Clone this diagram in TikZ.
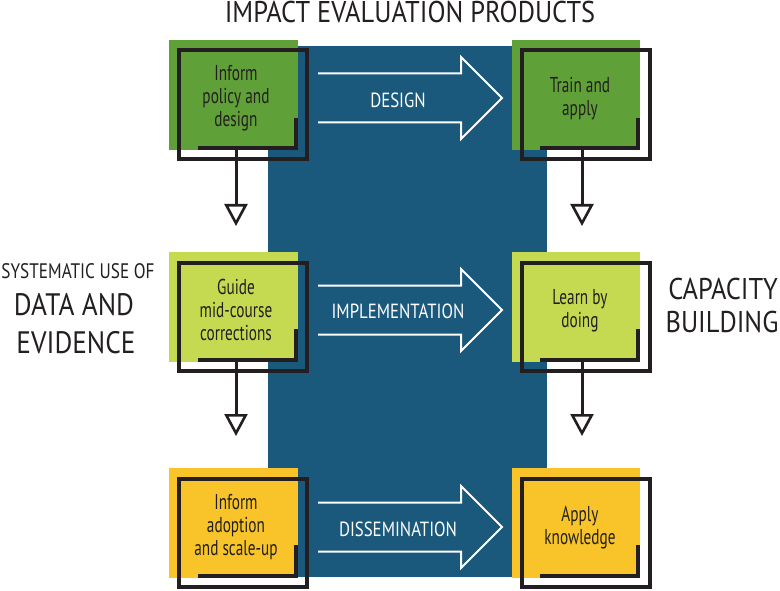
\documentclass[tikz,border=0pt]{standalone}
\usepackage{fontspec}
\setmainfont{PT Sans}[FakeStretch=0.82]
\newfontfamily\boxfam{PT Sans}[FakeStretch=0.71]
\newfontfamily\bigfam{PT Sans}[FakeStretch=0.88]
\usetikzlibrary{arrows.meta,calc}
\definecolor{band}{RGB}{26,88,124}
\definecolor{gdark}{RGB}{96,160,56}
\definecolor{glime}{RGB}{197,218,80}
\definecolor{gyel}{RGB}{248,196,42}
\definecolor{ink}{RGB}{35,31,32}
\begin{document}
\begin{tikzpicture}[x=1pt,y=-1pt,
  fillbox/.style={minimum height=110pt, inner sep=0pt, draw=none},
  leftfill/.style={fillbox, minimum width=129pt},
  rightfill/.style={fillbox, minimum width=128pt},
  boxtext/.style={align=center, text=ink, inner sep=0pt, font=\boxfam\fontsize{21.5}{23}\selectfont},
  frame/.style={draw=ink, line width=3.6pt},
  shade/.style={draw=ink, line width=3.6pt, line join=miter},
  conn/.style={draw=ink, line width=3pt, -{Triangle[open, length=22pt, width=23pt, line width=2.6pt]}},
  bigarrow/.style={draw=white, line width=2pt, line join=miter},
  arrowtext/.style={text=white, inner sep=0pt, anchor=base, font=\fontsize{20.5}{22}\selectfont},
  sidetext/.style={text=ink, inner sep=0pt, anchor=base}
]
\useasboundingbox (0,0) rectangle (780,591);
% central band
\fill[band] (268,46) rectangle (547,577);

% ---------- row 1 (c = 98) ----------
\node[leftfill, fill=gdark] (fl1) at (233.5,95) {};
\node[rightfill, fill=gdark] (fr1) at (576,95) {};
\draw[frame] (179,50) rectangle (307,159);
\draw[frame] (522,50) rectangle (650,159);
\draw[shade] (296,118) -- (296,148) -- (198,148);
\draw[shade] (638,118) -- (638,148) -- (540,148);
\node[boxtext] (tl1) at (236,98) {Inform\\policy and\\design};
\node[boxtext] (tr1) at (580,99) {Train and\\apply};
\draw[bigarrow] (318,73.5) -- (461,73.5) -- (461,57) -- (502,98) -- (461,139) -- (461,122.5) -- (318,122.5);
\node[arrowtext] (a1) at (398,107.5) {DESIGN};
\coordinate (dl1) at (236,226);
\coordinate (dr1) at (582,226);
\draw[conn] (fl1.south -| dl1) -- (dl1);
\draw[conn] (fr1.south -| dr1) -- (dr1);

% ---------- row 2 (c = 310) ----------
\node[leftfill, fill=glime] (fl2) at (233.5,307) {};
\node[rightfill, fill=glime] (fr2) at (576,307) {};
\draw[frame] (179,263) rectangle (307,371);
\draw[frame] (522,263) rectangle (650,371);
\draw[shade] (296,329) -- (296,360) -- (198,360);
\draw[shade] (638,329) -- (638,360) -- (540,360);
\node[boxtext] (tl2) at (236,310) {Guide\\mid-course\\corrections};
\node[boxtext] (tr2) at (580,311) {Learn by\\doing};
\draw[bigarrow] (318,285.5) -- (461,285.5) -- (461,269) -- (502,310) -- (461,351) -- (461,334.5) -- (318,334.5);
\node[arrowtext] (a2) at (398,318.5) {IMPLEMENTATION};
\coordinate (dl2) at (236,436);
\coordinate (dr2) at (582,436);
\draw[conn] (fl2.south -| dl2) -- (dl2);
\draw[conn] (fr2.south -| dr2) -- (dr2);

% ---------- row 3 (c = 527) ----------
\node[leftfill, fill=gyel] (fl3) at (233.5,523) {};
\node[rightfill, fill=gyel] (fr3) at (576,523) {};
\draw[frame] (179,479) rectangle (307,587);
\draw[frame] (522,479) rectangle (650,587);
\draw[shade] (296,545) -- (296,576) -- (198,576);
\draw[shade] (638,545) -- (638,576) -- (540,576);
\node[boxtext] (tl3) at (236,527) {Inform\\adoption\\and scale-up};
\node[boxtext] (tr3) at (580,528) {Apply\\knowledge};
\draw[bigarrow] (318,502.5) -- (461,502.5) -- (461,486) -- (502,527) -- (461,568) -- (461,551.5) -- (318,551.5);
\node[arrowtext] (a3) at (398,536.5) {DISSEMINATION};

% ---------- side texts ----------
\node[sidetext, font=\bigfam\fontsize{30}{30}\selectfont] (title) at (410,23) {IMPACT EVALUATION PRODUCTS};
\node[sidetext, font=\fontsize{21}{21}\selectfont] (sys) at (78,278) {SYSTEMATIC USE OF};
\node[sidetext, font=\bigfam\fontsize{31}{31}\selectfont] (data) at (74,315) {DATA AND};
\node[sidetext, font=\bigfam\fontsize{31}{31}\selectfont] (evid) at (76,353) {EVIDENCE};
\node[sidetext, font=\bigfam\fontsize{30}{30}\selectfont] (cap) at (723,299) {CAPACITY};
\node[sidetext, font=\bigfam\fontsize{30}{30}\selectfont] (build) at (722,332) {BUILDING};
\end{tikzpicture}
\end{document}
